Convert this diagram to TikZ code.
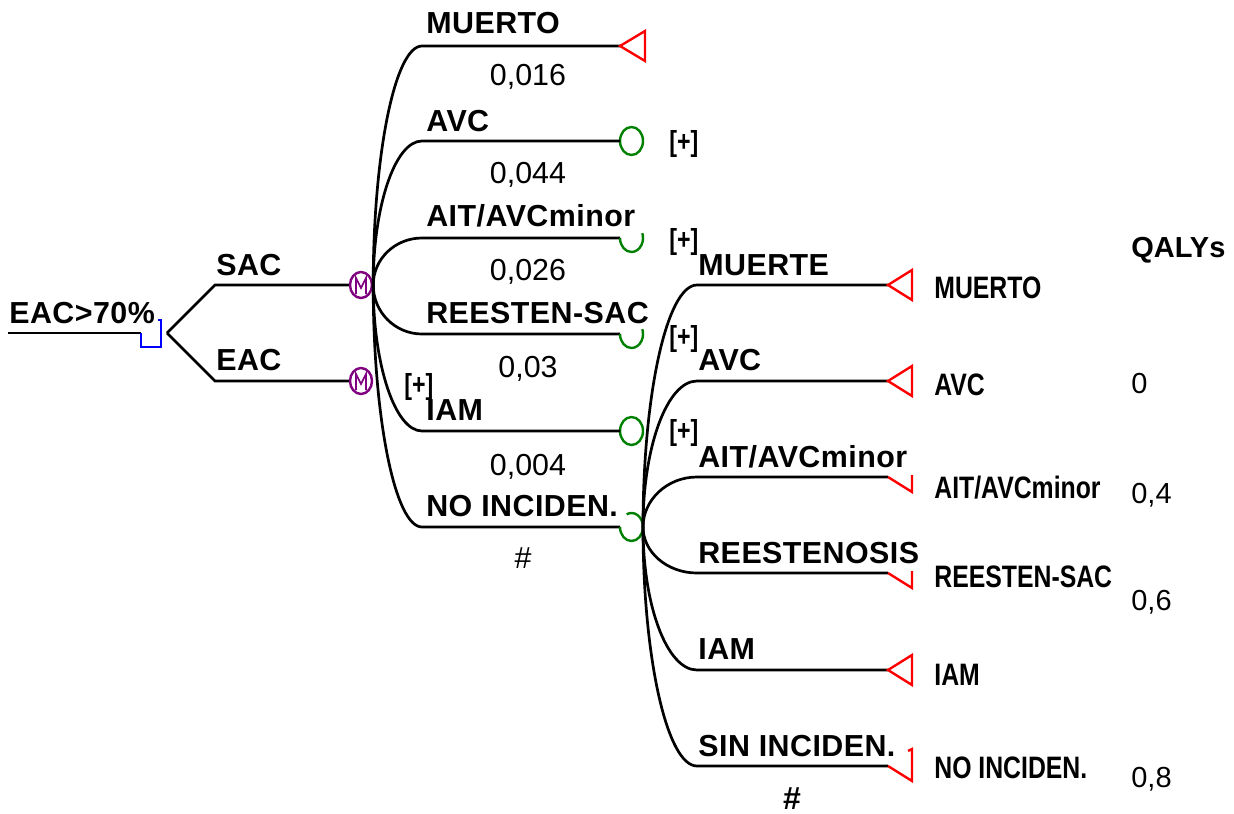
\documentclass[tikz,border=0pt]{standalone}
\usepackage{fontspec}
\usetikzlibrary{shapes.geometric}
\setmainfont{Liberation Sans}
\newfontfamily\spacedbf[LetterSpace=1.5]{Liberation Sans Bold}
\newfontfamily\narrowbf[FakeStretch=0.8]{Liberation Sans Bold}
\definecolor{markov}{RGB}{128,0,128}
\definecolor{chance}{RGB}{0,128,0}
\begin{document}
\begin{tikzpicture}[x=0.5pt,y=-0.5pt,line width=1.35pt,
  lbl/.style={anchor=base west,inner sep=0pt,font=\fontsize{15.2}{17}\spacedbf},
  prob/.style={anchor=base,inner sep=0pt,font=\fontsize{15.2}{17}\selectfont},
  outc/.style={anchor=base west,inner sep=0pt,font=\fontsize{15.5}{18}\narrowbf},
  plus/.style={anchor=base west,inner sep=0pt,font=\fontsize{14.5}{17}\narrowbf},
  qaly/.style={anchor=base west,inner sep=0pt,font=\fontsize{14.5}{17}\selectfont},
  mnode/.style={draw=markov,line width=1.2pt,ellipse,minimum width=11pt,minimum height=13pt,inner sep=0pt},
  cnode/.style={draw=chance,line width=1.2pt,ellipse,minimum width=11.5pt,minimum height=14pt,inner sep=0pt,outer sep=0pt},
  cpart/.style={cnode,draw=none},
  tnode/.style={draw=red,line width=1.2pt}]
\useasboundingbox (0,0) rectangle (1234,813);
\coordinate (root) at (8,333);
\coordinate (dec) at (141,333);
\coordinate (split) at (167,333);
\node[lbl] (tree) at (8,323) {EAC>70\%};
\draw (root) -- (dec);
\draw[blue,line width=1.2pt] (dec) |- ++(20,14) |- ++(-3,-27);
\node[mnode] (msac) at (361,285) {};
\node[mnode] (meac) at (361,381) {};
\draw[markov,line width=0.8pt] (msac.center) ++(-5,9) --++(0,-16) --++(5,10) --++(5,-10) --++(0,16);
\draw[markov,line width=0.8pt] (meac.center) ++(-5,9) --++(0,-16) --++(5,10) --++(5,-10) --++(0,16);
\draw (split) --++(48,-48) -- (msac);
\draw (split) --++(48,48) -- (meac);
\node[lbl] (sac) at (215,275) {SAC};
\node[lbl] (eac) at (215,370) {EAC};
\node[plus] (eacplus) at (403,394) {[+]};
\coordinate (s1) at (422,46);
\coordinate (s2) at (422,141);
\coordinate (s3) at (422,238);
\coordinate (s4) at (422,334);
\coordinate (s5) at (422,431);
\coordinate (s6) at (422,527);
\coordinate (t1) at (620,46);
\node[cnode] (c2) at (631.5,141) {};
\node[cpart] (c3) at (631.5,238) {};
\node[cpart] (c4) at (631.5,334) {};
\node[cnode] (c5) at (631.5,431) {};
\node[cpart] (c6) at (631.5,527) {};
\draw (msac.east) .. controls +(0,-131) and +(-27,0) .. (s1) -- (t1);
\draw (msac.east) .. controls +(0,-79) and +(-27,0) .. (s2) -- (c2);
\draw (msac.east) .. controls +(0,-26) and +(-27,0) .. (s3) -- (c3);
\draw (msac.east) .. controls +(0,27) and +(-27,0) .. (s4) -- (c4);
\draw (msac.east) .. controls +(0,80) and +(-27,0) .. (s5) -- (c5);
\draw (msac.east) .. controls +(0,133) and +(-27,0) .. (s6) -- (c6);
\draw[tnode] (t1) --++(25,-15) --++(0,30) -- cycle;
\draw[chance,line width=1.2pt] (c3.west) arc[start angle=180,end angle=-20,x radius=11.5,y radius=14];
\draw[chance,line width=1.2pt] (c4.west) arc[start angle=180,end angle=-20,x radius=11.5,y radius=14];
\draw[chance,line width=1.2pt] (c6.west) arc[start angle=180,end angle=-115,x radius=11.5,y radius=14];
\node[plus] (p2) at (668,151) {[+]};
\node[plus] (p3) at (668,249) {[+]};
\node[plus] (p4) at (668,346) {[+]};
\node[plus] (p5) at (668,440) {[+]};
\node[lbl] (l1) at (425,34) {MUERTO};
\node[lbl] (l2) at (425,131) {AVC};
\node[lbl] (l3) at (425,226) {AIT/AVCminor};
\node[lbl] (l4) at (425,323) {REESTEN-SAC};
\node[lbl] (l5) at (425,420) {IAM};
\node[lbl] (l6) at (425,516) {NO INCIDEN.};
\node[prob] (q1) at (528,85) {0,016};
\node[prob] (q2) at (528,183) {0,044};
\node[prob] (q3) at (528,280) {0,026};
\node[prob] (q4) at (528,377) {0,03};
\node[prob] (q5) at (528,475) {0,004};
\node[prob] (q6) at (523,568) {\#};
\coordinate (n1) at (697,285);
\coordinate (n2) at (697,381);
\coordinate (n3) at (697,477);
\coordinate (n4) at (697,573);
\coordinate (n5) at (697,670);
\coordinate (n6) at (697,766);
\coordinate (e1) at (888,285);
\coordinate (e2) at (888,381);
\coordinate (e3) at (888,477);
\coordinate (e4) at (888,573);
\coordinate (e5) at (888,670);
\coordinate (e6) at (888,766);
\draw (c6.east) .. controls +(0,-133) and +(-30,0) .. (n1) -- (e1);
\draw (c6.east) .. controls +(0,-80) and +(-30,0) .. (n2) -- (e2);
\draw (c6.east) .. controls +(0,-27) and +(-30,0) .. (n3) -- (e3);
\draw (c6.east) .. controls +(0,25) and +(-30,0) .. (n4) -- (e4);
\draw (c6.east) .. controls +(0,79) and +(-30,0) .. (n5) -- (e5);
\draw (c6.east) .. controls +(0,131) and +(-30,0) .. (n6) -- (e6);
\draw[tnode] (e1) --++(24,-15) --++(0,30) -- cycle;
\draw[tnode] (e2) --++(24,-15) --++(0,30) -- cycle;
\draw[tnode] (e3) --++(24,15) --++(0,-17);
\draw[tnode] (e4) --++(24,15) --++(0,-17);
\draw[tnode] (e5) --++(24,-15) --++(0,30) -- cycle;
\draw[tnode] (e6) --++(24,15) --++(0,-32) --++(-4,2);
\node[lbl] (m1) at (697,275) {MUERTE};
\node[lbl] (m2) at (697,370) {AVC};
\node[lbl] (m3) at (697,467) {AIT/AVCminor};
\node[lbl] (m4) at (697,563) {REESTENOSIS};
\node[lbl] (m5) at (697,659) {IAM};
\node[lbl] (m6) at (697,756) {SIN INCIDEN.};
\node[lbl,anchor=base,font=\fontsize{16}{18}\spacedbf] (m7) at (792,809) {\#};
\node[outc] (o1) at (933,298) {MUERTO};
\node[outc] (o2) at (933,395) {AVC};
\node[outc] (o3) at (933,498) {AIT/AVCminor};
\node[outc] (o4) at (933,587) {REESTEN-SAC};
\node[outc] (o5) at (933,685) {IAM};
\node[outc] (o6) at (933,778) {NO INCIDEN.};
\node[qaly,font=\fontsize{14.5}{17}\selectfont\bfseries] (qh) at (1130,257) {QALYs};
\node[qaly] (v2) at (1130,393) {0};
\node[qaly] (v3) at (1130,503) {0,4};
\node[qaly] (v4) at (1130,610) {0,6};
\node[qaly] (v6) at (1130,787) {0,8};
\end{tikzpicture}
\end{document}
